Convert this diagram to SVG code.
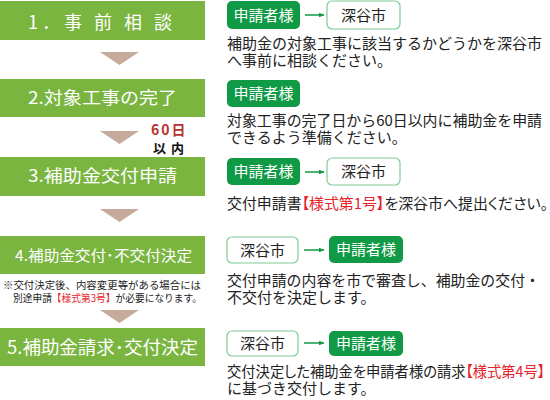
<svg xmlns="http://www.w3.org/2000/svg" width="550" height="400" viewBox="0 0 550 400">
<defs>
<style>
.step{fill:#7ab540;}
.stxt{fill:#fff;font-family:"Noto Sans CJK JP","Noto Sans",sans-serif;font-weight:400;}
.tri{fill:#c6aa9b;}
.badge{fill:#109a45;}
.btxt{fill:#fff;font-family:"Noto Sans CJK JP",sans-serif;font-size:15px;}
.obox{fill:#fff;stroke:#7fcc98;stroke-width:1.2;}
.otxt{fill:#222;font-family:"Noto Sans CJK JP",sans-serif;font-size:15px;}
.body{fill:#222;font-family:"Noto Sans CJK JP",sans-serif;font-size:15px;}
.palt{font-feature-settings:"palt";}
.red{fill:#e8232a;}
.conn{stroke:#109a45;stroke-width:1.5;fill:none;}
</style>
<marker id="ah" viewBox="0 0 10 10" refX="9" refY="5" markerWidth="6" markerHeight="6" orient="auto" markerUnits="userSpaceOnUse"><path d="M0,1 L10,5 L0,9 z" fill="#109a45"/></marker>
</defs>

<g id="step1"><rect class="step" x="0" y="1" width="205" height="39"/><text class="stxt" x="28" y="29" font-size="18" letter-spacing="4">1．事 前 相 談</text></g>
<g id="step2"><rect class="step" x="0" y="79" width="205" height="38"/><text class="stxt" x="28" y="104" font-size="17" textLength="149" lengthAdjust="spacingAndGlyphs">2.対象工事の完了</text></g>
<g id="step3"><rect class="step" x="0" y="157" width="205" height="39"/><text class="stxt" x="28" y="182" font-size="17" textLength="149" lengthAdjust="spacingAndGlyphs">3.補助金交付申請</text></g>
<g id="step4"><rect class="step" x="0" y="236" width="205" height="38"/><text class="stxt" x="15" y="261" font-size="15" textLength="177" lengthAdjust="spacingAndGlyphs">4.補助金交付･不交付決定</text></g>
<g id="step5"><rect class="step" x="0" y="328" width="205" height="38"/><text class="stxt" x="7" y="354" font-size="18" textLength="191" lengthAdjust="spacingAndGlyphs">5.補助金請求･交付決定</text></g>

<g id="arrows">
<polygon class="tri" points="100,52 139,52 119.5,65"/>
<polygon class="tri" points="100,131 139,131 119.5,144"/>
<polygon class="tri" points="100,209 139,209 119.5,222"/>
<polygon class="tri" points="100,310 139,310 119.5,323"/>
</g>

<g id="note60"><text x="151" y="135" font-family="Noto Sans CJK JP,sans-serif" font-weight="bold" font-size="14" fill="#b83232" letter-spacing="2">60日</text><text x="153" y="153" font-family="Noto Sans CJK JP,sans-serif" font-weight="bold" font-size="13" fill="#111" letter-spacing="5">以内</text></g>

<g id="note4"><text font-family="Noto Sans CJK JP,sans-serif" font-size="10" fill="#222"><tspan x="3" y="289" textLength="198" lengthAdjust="spacingAndGlyphs">※交付決定後、内容変更等がある場合には</tspan><tspan x="13" y="302" textLength="189" lengthAdjust="spacingAndGlyphs">別途申請<tspan class="red">【様式第3号】</tspan>が必要になります。</tspan></text></g>

<g id="r1">
<rect class="badge" x="227" y="1" width="73" height="28" rx="5"/><text class="btxt" x="263.5" y="21" text-anchor="middle">申請者様</text>
<rect class="obox" x="327" y="1" width="73" height="28" rx="5"/><text class="otxt" x="363.5" y="21" text-anchor="middle">深谷市</text>
<text class="body" x="227" y="49" textLength="315" lengthAdjust="spacingAndGlyphs">補助金の対象工事に該当するかどうかを深谷市</text>
<text class="body" x="227" y="66">へ事前に相談ください。</text>
</g>
<g id="r2">
<rect class="badge" x="227" y="80" width="73" height="27" rx="5"/><text class="btxt" x="263.5" y="99" text-anchor="middle">申請者様</text>
<text class="body" x="227" y="126" textLength="315" lengthAdjust="spacingAndGlyphs">対象工事の完了日から60日以内に補助金を申請</text>
<text class="body" x="227" y="143">できるよう準備ください。</text>
</g>
<g id="r3">
<rect class="badge" x="227" y="158" width="73" height="27" rx="5"/><text class="btxt" x="263.5" y="177" text-anchor="middle">申請者様</text>
<rect class="obox" x="327" y="158" width="73" height="27" rx="5"/><text class="otxt" x="363.5" y="177" text-anchor="middle">深谷市</text>
<text class="body palt" x="227" y="209" textLength="321" lengthAdjust="spacingAndGlyphs">交付申請書<tspan class="red">【様式第1号】</tspan>を深谷市へ提出ください。</text>
</g>
<g id="r4">
<rect class="obox" x="227" y="237" width="71" height="26" rx="5"/><text class="otxt" x="262.5" y="256" text-anchor="middle">深谷市</text>
<rect class="badge" x="329" y="236" width="74" height="27" rx="5"/><text class="btxt" x="366" y="255" text-anchor="middle">申請者様</text>
<text class="body" x="227" y="286" textLength="313" lengthAdjust="spacingAndGlyphs">交付申請の内容を市で審査し、補助金の交付・</text>
<text class="body" x="227" y="303">不交付を決定します。</text>
</g>
<g id="r5">
<rect class="obox" x="227" y="331" width="71" height="25" rx="5"/><text class="otxt" x="262.5" y="349" text-anchor="middle">深谷市</text>
<rect class="badge" x="329" y="331" width="74" height="25" rx="5"/><text class="btxt" x="366" y="349" text-anchor="middle">申請者様</text>
<text class="body palt" x="227" y="377" textLength="318" lengthAdjust="spacingAndGlyphs">交付決定した補助金を申請者様の請求<tspan class="red">【様式第4号】</tspan></text>
<text class="body" x="227" y="394">に基づき交付します。</text>
</g>

<g id="connectors">
<line class="conn" x1="305" y1="15" x2="324" y2="15" marker-end="url(#ah)"/>
<line class="conn" x1="305" y1="172" x2="324" y2="172" marker-end="url(#ah)"/>
<line class="conn" x1="304" y1="250" x2="324" y2="250" marker-end="url(#ah)"/>
<line class="conn" x1="304" y1="343" x2="324" y2="343" marker-end="url(#ah)"/>
</g>
</svg>
